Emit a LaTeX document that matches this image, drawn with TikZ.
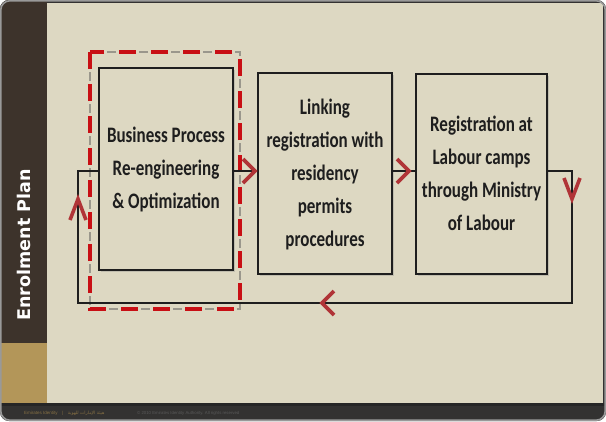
\documentclass[tikz,border=0pt]{standalone}
\usepackage{fontspec}
\usepackage{graphicx}
\setmainfont{Carlito}
\newfontfamily\barfont{DejaVu Sans}
\newfontfamily\footfont{Liberation Sans}
\newfontfamily\arabicfont[Script=Arabic]{DejaVu Sans}
\TeXXeTstate=1
\usetikzlibrary{shadows,calc}
\definecolor{bg}{HTML}{DDD8C2}
\definecolor{barbrown}{HTML}{3D332B}
\definecolor{bargold}{HTML}{B39659}
\definecolor{footdark}{HTML}{333231}
\definecolor{chevred}{HTML}{B03437}
\definecolor{dashred}{HTML}{C80F14}
\definecolor{dashgray}{HTML}{9A978C}
\definecolor{ink}{HTML}{1E1E1E}
\newcommand{\boxtext}[1]{\scalebox{1}[1.3]{\begin{tabular}{@{}c@{}}#1\end{tabular}}}
\tikzset{
  stagebox/.style={draw=ink, line width=2.2pt, fill=bg, inner sep=0pt,
    text=ink, font=\fontsize{17}{25.4}\selectfont\bfseries,
    drop shadow={shadow xshift=1.5pt, shadow yshift=-1.5pt, opacity=0.3}},
  flow/.style={draw=ink, line width=1.8pt},
  chev/.style={draw=chevred, line width=3.6pt, line join=miter},
  focusred/.style={draw=dashred, line width=3.6pt, dash pattern=on 17pt off 15pt},
  focusgray/.style={draw=dashgray, line width=2.6pt, dash pattern=on 0pt off 20pt on 9pt off 3pt},
}
\begin{document}
\begin{tikzpicture}[x=1pt,y=-1pt]
\useasboundingbox (0,0) rectangle (606,421);
\fill[white] (0,0) rectangle (606,421);
% slide
\fill[footdark, rounded corners=9pt] (0,0) rectangle (606,421);
\fill[bg] (47,3) rectangle (603,403);
\begin{scope}
\clip[rounded corners=9pt] (0,0) rectangle (606,421);
\fill[barbrown] (0,0) rectangle (47,343);
\fill[bargold] (0,343) rectangle (47,403);
\fill[black!85] (0,403) rectangle (606,405.5);
\end{scope}
\draw[gray!80, line width=1.6pt, rounded corners=9pt] (0.8,0.8) rectangle (605.2,420.2);
\node[rotate=90, text=white, font=\barfont\bfseries\fontsize{17.5}{20}\selectfont] (title) at (24,245) {Enrolment Plan};
% footer
\node[anchor=west, text=bargold!75!black, font=\footfont\fontsize{4.5}{5}\selectfont, inner sep=0pt] (foot1) at (24,413) {Emirates Identity\quad|\quad{\arabicfont\beginR هيئة الإمارات للهوية\endR}};
\node[anchor=west, text=gray!70!black, font=\footfont\fontsize{4.3}{5}\selectfont, inner sep=0pt] (foot2) at (137,413) {© 2010 Emirates Identity Authority. All rights reserved};
% focus rectangle
\draw[focusgray] (90,52) rectangle (240,309);
\draw[focusred] (90,52) -- (90,309) -- (240,309) -- (240,52) -- cycle;
% boxes
\node[stagebox, minimum width=134pt, minimum height=202pt] (b1) at (166,169) {\boxtext{Business Process\\Re-engineering\\\& Optimization}};
\node[stagebox, minimum width=134pt, minimum height=201pt] (b2) at (325,173.5) {\boxtext{Linking\\registration with\\residency\\permits\\procedures}};
\node[stagebox, minimum width=131pt, minimum height=200pt] (b3) at (481.5,174) {\boxtext{Registration at\\Labour camps\\through Ministry\\of Labour}};
% loop coordinates
\coordinate (L) at (78,171);
\coordinate (BL) at (78,303);
\coordinate (BR) at (572,303);
\coordinate (R) at (572,171);
\draw[flow] (b1.east |- L) -- (b2.west |- L);
\draw[flow] (b2.east |- L) -- (b3.west |- L);
\draw[flow] (b3.east |- L) -- (R) -- (BR) -- (BL) -- (L) -- (b1.west |- L);
% chevrons
\coordinate (c1) at (255,171);
\coordinate (c2) at (409,171);
\coordinate (c3) at (572,199);
\coordinate (c4) at (322,303);
\coordinate (c5) at (78,199);
\draw[chev] ($(c1)+(-12,-12)$) -- (c1) -- ($(c1)+(-12,12)$);
\draw[chev] ($(c2)+(-12,-12)$) -- (c2) -- ($(c2)+(-12,12)$);
\draw[chev] ($(c3)+(-8,-21)$) -- (c3) -- ($(c3)+(8,-21)$);
\draw[chev] ($(c4)+(12,-12)$) -- (c4) -- ($(c4)+(12,12)$);
\draw[chev] ($(c5)+(-8,21)$) -- (c5) -- ($(c5)+(8,21)$);
\end{tikzpicture}
\end{document}
